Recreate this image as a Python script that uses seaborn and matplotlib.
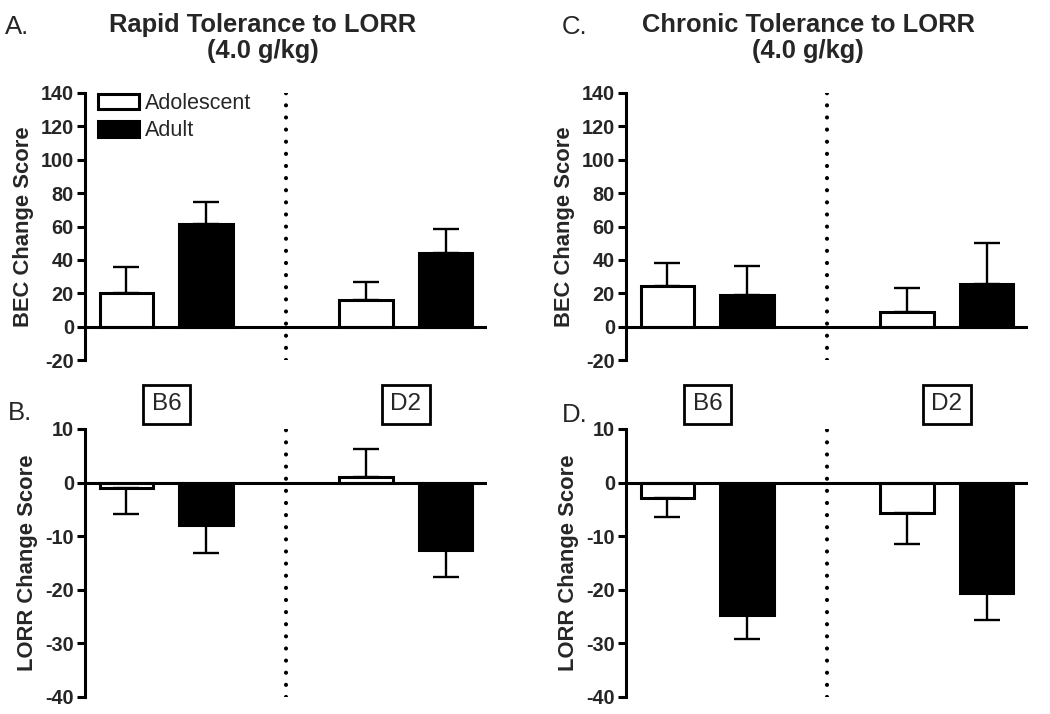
import pandas as pd
import seaborn as sns
import matplotlib
matplotlib.use("Agg")
import matplotlib.pyplot as plt

# values (mean and one-sided error)
strains = ['B6', 'D2']
ages = ['Adolescent', 'Adult']

rapid_bec_adol = [20, 16]
rapid_bec_adult = [61.5, 44]
rapid_bec_adol_err = [16, 10.5]
rapid_bec_adult_err = [13, 14.5]

rapid_lorr_adol = [-1, 1]
rapid_lorr_adult = [-7.9, -12.6]
rapid_lorr_adol_err = [4.8, 5.2]
rapid_lorr_adult_err = [5.2, 5.1]

chronic_bec_adol = [24.5, 8.5]
chronic_bec_adult = [19, 25.7]
chronic_bec_adol_err = [13.5, 14.5]
chronic_bec_adult_err = [17.5, 24.3]

chronic_lorr_adol = [-2.8, -5.7]
chronic_lorr_adult = [-24.7, -20.6]
chronic_lorr_adol_err = [3.6, 5.7]
chronic_lorr_adult_err = [4.5, 5.1]

bec_ticks = [-20, 0, 20, 40, 60, 80, 100, 120, 140]
lorr_ticks = [-40, -30, -20, -10, 0, 10]

sns.set_theme(style='white')
plt.rcParams['font.family'] = ['Liberation Sans', 'DejaVu Sans']
plt.rcParams['axes.unicode_minus'] = False

fig = plt.figure(figsize=(10.5, 7.14), dpi=100)

W, H = 1050, 714
def px_axes(left, right, top, bottom):
    return fig.add_axes([left / W, 1 - bottom / H, (right - left) / W, (bottom - top) / H])

ax_a = px_axes(85, 487, 93, 360)
ax_b = px_axes(85, 487, 429, 697)
ax_c = px_axes(626, 1028, 93, 360)
ax_d = px_axes(626, 1028, 429, 697)

LW = 2.2


def draw_panel(ax, adol, adult, adol_err, adult_err, ticks, ylabel):
    df = pd.DataFrame({
        'strain': strains * 2,
        'age': [ages[0]] * 2 + [ages[1]] * 2,
        'value': adol + adult,
    })
    sns.barplot(data=df, x='strain', y='value', hue='age',
                order=strains, hue_order=ages,
                palette=['white', 'black'], edgecolor='black',
                linewidth=LW, errorbar=None, width=0.667, gap=0.325,
                legend=False, ax=ax)

    # one-sided error bars, pointing away from zero
    for cont, errs in zip(ax.containers, [adol_err, adult_err]):
        for bar, e in zip(cont, errs):
            x = bar.get_x() + bar.get_width() / 2
            val = bar.get_height() if bar.get_y() == 0 else bar.get_y()
            yerr = [[0], [e]] if val >= 0 else [[e], [0]]
            ax.errorbar([x], [val], yerr=yerr, fmt='none', ecolor='black',
                        elinewidth=1.7, capsize=9.5, capthick=1.7, zorder=1)

    ax.axhline(0, color='black', lw=LW, zorder=3)
    ax.axvline(0.5, color='black', lw=3, linestyle=(0, (0.01, 2.9)),
               dash_capstyle='round', zorder=0)

    ax.set_xlim(-0.34, 1.34)
    ax.set_ylim(ticks[0], ticks[-1])
    ax.set_yticks(ticks)
    ax.set_yticklabels([str(t) for t in ticks], fontweight='bold', fontsize=14.3)
    ax.set_xticks([])
    ax.set_xlabel('')
    ax.set_ylabel(ylabel, fontweight='bold', fontsize=15.8, labelpad=5)
    for s in ['top', 'right', 'bottom']:
        ax.spines[s].set_visible(False)
    ax.spines['left'].set_linewidth(LW)
    ax.spines['left'].set_color('black')
    ax.tick_params(axis='y', direction='out', length=6, width=LW,
                   color='black', pad=2, left=True)


draw_panel(ax_a, rapid_bec_adol, rapid_bec_adult,
           rapid_bec_adol_err, rapid_bec_adult_err, bec_ticks, 'BEC Change Score')
draw_panel(ax_b, rapid_lorr_adol, rapid_lorr_adult,
           rapid_lorr_adol_err, rapid_lorr_adult_err, lorr_ticks, 'LORR Change Score')
draw_panel(ax_c, chronic_bec_adol, chronic_bec_adult,
           chronic_bec_adol_err, chronic_bec_adult_err, bec_ticks, 'BEC Change Score')
draw_panel(ax_d, chronic_lorr_adol, chronic_lorr_adult,
           chronic_lorr_adol_err, chronic_lorr_adult_err, lorr_ticks, 'LORR Change Score')

# legend in panel A
ax_a.legend(ax_a.containers, ages, loc='upper left',
            bbox_to_anchor=(0.032, 1.0), frameon=False, fontsize=15.5,
            handlelength=1.9, handleheight=0.75, handletextpad=0.3,
            labelspacing=0.3, borderpad=0, borderaxespad=0)

# strain boxes above the LORR panels
for ax in [ax_b, ax_d]:
    for i, s in enumerate(strains):
        ax.text(i, 1.093, s, transform=ax.get_xaxis_transform(),
                ha='center', va='center', fontsize=17.5,
                bbox=dict(boxstyle='square,pad=0.35', fc='white', ec='black', lw=2))

# titles
fig.text(263 / W, 1 - 38 / H, 'Rapid Tolerance to LORR\n(4.0 g/kg)',
         ha='center', va='center', fontsize=18.4, fontweight='bold', linespacing=1.1)
fig.text(808 / W, 1 - 38 / H, 'Chronic Tolerance to LORR\n(4.0 g/kg)',
         ha='center', va='center', fontsize=18.4, fontweight='bold', linespacing=1.1)

# panel letters
fig.text(5 / W, 1 - 27 / H, 'A.', ha='left', va='center', fontsize=18.5)
fig.text(8 / W, 1 - 413 / H, 'B.', ha='left', va='center', fontsize=18.5)
fig.text(562 / W, 1 - 27 / H, 'C.', ha='left', va='center', fontsize=18.5)
fig.text(562 / W, 1 - 415 / H, 'D.', ha='left', va='center', fontsize=18.5)

fig.savefig('out.png', dpi=100, facecolor='white')
